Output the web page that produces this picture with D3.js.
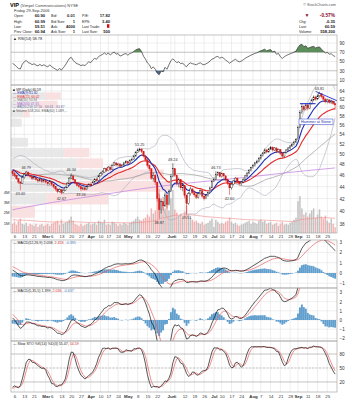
<!DOCTYPE html>
<html><head><meta charset="utf-8">
<script src="https://cdn.jsdelivr.net/npm/d3@7/dist/d3.min.js"></script>
<style>
body{margin:0;background:#fff;}
svg{display:block;font-family:"Liberation Sans",Arial,sans-serif;}
</style></head><body>
<svg id="chart" width="352" height="400"></svg>
<script>
// ---------------- data ----------------
const tickDays = [0,5,10,16,19,24,29,34,39,44,48,53,58,63,68,73,80,82,87,92,97,102,106,111,116,122,126,131,136,141,145,150,155,160];
const tickLabels = ["6","13","21","Mar","6","13","20","27","Apr","10","17","24","May","8","15","22","Jun","5","12","19","26","Jul","10","17","24","Aug","7","14","21","28","Sep","11","18","25"];
const monthLabels = ["Mar","Apr","May","Jun","Jul","Aug","Sep"];

// Dec-Jan prices before the visible window (only used to warm up indicators)
const warmupCloses = [43.5,43.2,43.8,43.6,43.1,43.4,43.9,43.7,44.0,43.6,43.9,44.3,44.0,44.6,45.0,45.4,45.2,45.8,46.3,46.0,46.6,47.1,46.8,47.4,47.9,48.3,48.0,48.6,48.9,48.5,48.8,48.2,47.8,48.1,47.5,47.0,47.3,46.8,46.5,46.8];

// visible trading days: Feb 3 2006 (day -1) .. Sep 29 2006 (day 164)
const closes = [
46.3,
46.0,45.4,44.8,44.6,45.6,
46.2,46.6,46.0,45.8,45.4,
45.6,45.2,45.0,45.3,44.9,45.1,
44.8,44.5,44.9,
44.4,44.0,43.6,43.2,43.5,
43.0,43.4,43.9,44.6,45.5,
45.9,45.2,44.6,44.2,44.0,
43.6,43.8,43.5,44.0,44.4,
44.2,44.8,45.3,45.1,45.9,
46.3,46.6,47.2,46.9,
47.5,47.1,47.8,48.3,47.9,
48.1,47.6,47.9,48.3,48.5,
48.2,48.8,49.0,49.6,50.3,
50.8,51.0,50.5,49.6,48.9,
47.8,47.2,45.5,46.0,44.8,
42.0,40.2,41.5,40.8,42.6,
41.0,43.2,45.8,47.2,
46.0,44.6,45.2,43.8,44.2,
42.5,41.2,42.8,43.6,43.0,
42.6,42.2,42.8,43.3,42.4,
42.0,42.5,43.0,43.8,44.9,
45.3,46.2,46.5,45.8,
46.3,45.9,45.2,44.6,43.8,
44.4,45.0,45.5,44.9,44.5,
44.8,45.3,45.9,46.4,46.9,
47.4,47.8,48.3,48.6,49.2,
49.7,50.2,50.8,50.4,51.0,
51.3,50.8,51.2,50.5,50.9,
50.1,49.6,50.3,50.8,51.2,
51.6,51.9,52.4,52.9,55.5,
58.8,60.2,59.5,60.6,
59.8,60.9,61.8,62.5,62.0,
62.8,63.3,62.6,62.0,61.4,
61.8,61.2,61.5,60.94,60.59];

const highs = [
46.8,
46.6,46.1,45.5,45.0,45.8,
46.4,46.8,46.6,46.2,45.9,
45.9,45.7,45.4,45.5,45.4,45.3,
45.2,44.9,45.1,
44.9,44.5,44.1,43.7,43.7,
43.6,43.6,44.1,44.8,45.7,
46.34,46.0,45.3,44.8,44.4,
44.1,44.0,43.9,44.2,44.6,
44.7,45.0,45.5,45.6,46.1,
46.6,46.9,47.4,47.4,
47.7,47.6,48.0,48.5,48.4,
48.3,48.2,48.1,48.5,48.8,
48.7,49.0,49.3,49.8,50.6,
51.1,51.25,51.1,50.6,49.8,
48.9,48.0,47.3,46.5,46.2,
44.5,42.8,42.0,42.3,43.0,
42.8,43.5,46.2,48.24,
47.3,46.1,45.6,45.3,44.7,
44.3,42.7,43.1,44.0,43.8,
43.3,42.9,43.0,43.5,43.4,
42.6,42.7,43.2,44.0,45.1,
45.6,46.73,46.7,46.6,
46.5,46.4,46.0,45.4,44.7,
44.6,45.2,45.7,45.6,45.0,
45.0,45.5,46.1,46.6,47.1,
47.6,48.1,48.5,48.9,49.4,
50.0,50.4,51.1,51.0,51.2,
51.6,51.5,51.4,51.3,51.1,
51.0,50.3,50.5,51.0,51.4,
51.8,52.2,52.7,53.2,55.9,
59.4,60.8,60.6,61.0,
60.8,61.2,62.1,62.9,62.8,
63.2,63.81,63.4,62.9,62.3,
62.1,62.0,61.8,61.6,60.99];

const lows = [
45.9,
45.7,45.2,44.5,43.4,44.5,
45.4,46.0,45.8,45.5,45.1,
45.2,45.0,44.7,44.9,44.6,44.7,
44.5,44.2,44.3,
44.1,43.7,43.3,42.9,43.0,
42.67,42.9,43.3,43.8,44.5,
45.3,45.0,44.4,44.0,43.7,
43.24,43.4,43.3,43.4,43.9,
44.0,44.1,44.7,44.9,45.0,
45.8,46.1,46.5,46.6,
46.9,46.9,47.0,47.7,47.6,
47.6,47.4,47.4,47.7,48.1,
47.9,48.1,48.6,48.9,49.5,
50.2,50.5,50.2,49.3,48.6,
47.4,46.8,45.2,44.9,44.3,
41.5,38.87,39.6,40.1,40.6,
40.4,40.9,43.3,45.6,
45.7,44.2,43.9,43.4,43.2,
42.0,39.51,41.0,42.5,42.7,
42.3,41.9,42.0,42.6,42.1,
41.7,41.9,42.3,42.9,43.8,
44.8,45.2,45.9,45.6,
45.6,45.6,44.9,44.3,42.60,
43.5,44.2,44.8,44.6,44.2,
44.2,44.6,45.2,45.7,46.2,
46.7,47.2,47.6,48.1,48.4,
48.9,49.5,50.0,50.1,50.3,
50.8,50.5,50.6,50.2,50.3,
49.8,49.2,49.4,50.1,50.6,
51.0,51.4,51.7,52.2,53.1,
55.4,58.5,59.1,59.3,
59.3,59.6,60.7,61.5,61.6,
61.9,62.4,62.2,61.7,61.0,
61.0,60.9,60.8,60.6,59.51];

// volume, millions of shares
const volumes = [
0.9,
1.1,0.8,1.2,1.4,0.9,
0.8,1.0,0.7,0.9,0.8,
0.7,0.9,0.6,0.8,0.9,0.7,
0.8,0.9,0.7,
0.9,1.0,1.1,1.2,0.8,
1.3,0.9,1.0,1.1,1.3,
1.6,1.2,0.9,0.8,0.7,
0.9,0.7,0.8,0.9,1.0,
0.8,0.9,1.0,0.8,1.2,
1.1,1.0,1.3,0.8,
0.9,0.8,1.1,1.0,0.9,
0.7,0.9,0.8,1.0,0.9,
0.8,1.0,1.1,1.2,1.4,
1.6,1.3,1.2,1.4,1.5,
1.8,1.6,2.4,1.9,2.2,
3.6,4.3,3.1,2.6,2.4,
2.8,2.2,3.4,4.2,
2.3,2.0,1.7,1.9,1.5,
2.1,2.7,1.8,1.5,1.3,
1.1,1.2,1.0,0.9,1.1,
0.8,0.9,1.0,1.2,1.4,
0.6,1.3,1.1,0.9,
1.0,0.9,1.1,1.2,1.5,
1.1,0.9,1.0,0.8,0.7,
0.8,0.9,1.0,1.1,1.2,
0.9,1.1,1.0,0.9,1.2,
1.3,1.1,1.2,0.9,1.0,
1.1,0.8,0.9,1.0,0.7,
0.9,1.1,0.8,0.9,0.8,
1.0,1.1,1.3,1.5,3.1,
3.6,2.4,1.8,2.0,
1.6,1.9,2.2,2.4,1.5,
1.8,2.3,1.6,1.4,1.7,
1.2,1.0,1.4,0.9,0.558];

const ma200Days = [-1,20,40,60,80,100,120,140,164];
const ma200Values = [40.2,41.4,42.4,43.4,44.3,45.0,45.7,46.5,47.35];

const priceTicks = [64,62,60,58,56,54,52,50,48,46,44,42,40,38];
const volTicks = [1,2,3,4];
const rsiTicks = [90,70,50,30,10];
const macd1Ticks = [3,2,1,0,-1];
const macd2Ticks = [3,2,1,0,-1,-2];
const stoTicks = [80,50,20];

const labelDays   = [6,3,29,24,34,64,81,74,88,103,110,156];
const labelValues = [46.79,43.40,46.34,42.67,43.24,51.25,48.24,38.87,39.51,46.73,42.60,63.81];
const labelAbove  = [1,0,1,0,0,1,1,0,0,1,0,1];

// ---------------- helpers ----------------
const svg = d3.select("#chart");
const L = 11, R = 337;
const days = d3.range(-1, 165);
const x = d3.scaleLinear().domain([0,164]).range([14.5, 14.5 + 164*1.955]);
const nW = warmupCloses.length;
const fullC = warmupCloses.concat(closes);
const fullH = warmupCloses.concat(highs);
const fullL = warmupCloses.concat(lows);

function ema(arr, n){ const k = 2/(n+1); let e = arr[0]; return arr.map((v,i)=> (e = i===0 ? v : v*k + e*(1-k))); }
function sma(arr, n){ return arr.map((v,i)=> d3.mean(arr.slice(Math.max(0,i-n+1), i+1))); }
function vis(arr){ return arr.slice(nW); }

const opens = closes.map((c,d)=> d===0 ? warmupCloses[nW-1] : closes[d-1]);
const ema9 = vis(ema(fullC,9));
const ema21 = vis(ema(fullC,21));
const ma50 = vis(sma(fullC,50));
const bb = vis(fullC.map((v,i)=>{ const s = fullC.slice(Math.max(0,i-19), i+1); const m = d3.mean(s); const sd = Math.sqrt(d3.mean(s.map(q=>(q-m)*(q-m)))); return [m-2*sd, m+2*sd]; }));
function macdCalc(a,b,c){ const ea = ema(fullC,a), eb = ema(fullC,b); const m = ea.map((v,i)=>v-eb[i]); const s = ema(m,c); return {m: vis(m), s: vis(s), h: vis(m.map((v,i)=>v-s[i]))}; }
const M1 = macdCalc(12,26,9), M2 = macdCalc(5,35,5);
const rsi = vis((function(arr,n){ let ag=0, al=0; return arr.map((v,i)=>{ if(i===0) return 50; const ch=v-arr[i-1]; const g=Math.max(ch,0), l=Math.max(-ch,0); if(i<=n){ ag=(ag*(i-1)+g)/i; al=(al*(i-1)+l)/i; } else { ag=(ag*(n-1)+g)/n; al=(al*(n-1)+l)/n; } return al===0?100:100-100/(1+ag/al); }); })(fullC,14));
const fastK = fullC.map((v,i)=>{ const a=Math.max(0,i-13); const hh=d3.max(fullH.slice(a,i+1)), ll=d3.min(fullL.slice(a,i+1)); return hh===ll?50:(v-ll)/(hh-ll)*100; });
const slowKfull = sma(fastK,3);
const stoK = vis(slowKfull), stoD = vis(sma(slowKfull,3));
const volEma = (function(){ const k=2/61; let e=d3.mean(volumes); return volumes.map(v=> (e = v*k + e*(1-k))); })();

// ---------------- panels ----------------
const panels = {
  rsi:  {top:35,  bottom:85},
  price:{top:85,  bottom:233},
  m1:   {top:240, bottom:288},
  m2:   {top:288, bottom:341},
  sto:  {top:341, bottom:392}
};
const yR  = d3.scaleLinear().domain([0,100]).range([84.6,38.4]);
const yP  = d3.scaleLog().domain([38,64]).range([224.1,91]);
const yV  = d3.scaleLinear().domain([0,4]).range([233,192]);
const yM1 = d3.scaleLinear().domain([-1,3]).range([283.3,242.1]);
const yM2 = d3.scaleLinear().domain([-2,3]).range([338.4,292.4]);
const yS  = d3.scaleLinear().domain([0,100]).range([391.3,344.7]);

const defs = svg.append("defs");
Object.entries(panels).forEach(([k,p])=>{
  defs.append("clipPath").attr("id","clip-"+k).append("rect").attr("x",L).attr("y",p.top).attr("width",R-L).attr("height",p.bottom-p.top);
});

function grid(key, yScale, ticks, heavy){
  const p = panels[key];
  const g = svg.append("g");
  g.selectAll(".v").data(tickDays).join("line")
    .attr("x1",d=>x(d)).attr("x2",d=>x(d)).attr("y1",p.top).attr("y2",p.bottom)
    .attr("stroke","#e2e2e2").attr("stroke-width",0.6);
  g.selectAll(".h").data(ticks).join("line")
    .attr("x1",L).attr("x2",R).attr("y1",d=>yScale(d)).attr("y2",d=>yScale(d))
    .attr("stroke",d=> heavy && heavy.includes(d) ? "#9a9a9a" : "#e2e2e2").attr("stroke-width",0.6);
  const ax = svg.append("g").attr("transform",`translate(${R+1},0)`)
    .call(d3.axisRight(yScale).tickValues(ticks).tickSize(0).tickPadding(1.5).tickFormat(d3.format("d")));
  ax.select(".domain").remove();
  ax.selectAll("text").attr("font-size",4.6).attr("fill","#333").attr("font-family","Liberation Sans, Arial, sans-serif");
  return g;
}
function frame(key){
  const p = panels[key];
  svg.append("rect").attr("x",L).attr("y",p.top).attr("width",R-L).attr("height",p.bottom-p.top)
    .attr("fill","none").attr("stroke","#a8a8a8").attr("stroke-width",0.7);
}
function dateAxis(yPos){
  const ax = svg.append("g").attr("transform",`translate(0,${yPos})`)
    .call(d3.axisBottom(x).tickValues(tickDays).tickSize(0).tickPadding(0).tickFormat((d,i)=>tickLabels[i]));
  ax.select(".domain").remove();
  ax.selectAll("text").attr("font-size",4.4).attr("fill","#333")
    .attr("font-weight",(d,i)=> monthLabels.includes(tickLabels[i]) ? "bold" : "normal")
    .attr("font-family","Liberation Sans, Arial, sans-serif");
}
function txt(xp, yp, s, opt={}){
  return svg.append("text").attr("x",xp).attr("y",yp).text(s)
    .attr("font-size",opt.size||4.5).attr("fill",opt.fill||"#222")
    .attr("font-weight",opt.bold?"bold":"normal").attr("text-anchor",opt.anchor||"start");
}

// ---------------- header ----------------
txt(10,6.6,"VIP",{size:5.6,bold:true,fill:"#000"});
txt(20.5,6.6,"(Vimpel Communications)  NYSE",{size:4,fill:"#444"});
txt(336,5.8,"© StockCharts.com",{size:3.8,fill:"#555",anchor:"end"});
txt(14,11.6,"Friday  29-Sep-2006",{size:4,fill:"#333"});
const hdrRows = [17.2,22.6,28.0,33.4];
[["Open:","60.90"],["High:","60.99"],["Low:","59.51"],["Prev Close:","60.94"]].forEach((r,i)=>{ txt(14,hdrRows[i],r[0],{size:3.6}); txt(45,hdrRows[i],r[1],{size:4.1,bold:true,anchor:"end"}); });
[["Bid:","0.01"],["Bid Size:","1"],["Ask:","4000"],["Ask Size:","1"]].forEach((r,i)=>{ txt(51,hdrRows[i],r[0],{size:3.6}); txt(75,hdrRows[i],r[1],{size:4.1,bold:true,anchor:"end"}); });
[["P/E:","17.82"],["EPS:","3.40"],["Last Trade:",""],["Last Size:","500"]].forEach((r,i)=>{ txt(82,hdrRows[i],r[0],{size:3.6}); txt(110,hdrRows[i],r[1],{size:4.1,bold:true,anchor:"end"}); });
svg.append("rect").attr("x",107).attr("y",hdrRows[2]-3.8).attr("width",2.4).attr("height",3.6).attr("fill","#d01010");
txt(307,17.2,"▼",{size:5,fill:"#8b0a2a",anchor:"middle"});
txt(335,17.2,"-0.57%",{size:4.8,bold:true,fill:"#8b0a2a",anchor:"end"});
[["Chg:","-0.35"],["Last:","60.59"],["Volume:","558,200"]].forEach((r,i)=>{ txt(299,22.6+i*5.4,r[0],{size:3.6}); txt(335,22.6+i*5.4,r[1],{size:4.1,bold:true,anchor:"end"}); });

// ---------------- RSI ----------------
grid("rsi", yR, rsiTicks, [70,30]);
const gR = svg.append("g").attr("clip-path","url(#clip-rsi)");
gR.append("path").datum(rsi).attr("fill","#3f7a3f").attr("opacity",0.85)
  .attr("d", d3.area().x((d,i)=>x(days[i])).y0(yR(70)).y1(d=>yR(Math.max(d,70))));
gR.append("path").datum(rsi).attr("fill","#2a4f7a").attr("opacity",0.85)
  .attr("d", d3.area().x((d,i)=>x(days[i])).y0(yR(30)).y1(d=>yR(Math.min(d,30))));
gR.append("path").datum(rsi).attr("fill","none").attr("stroke","#333").attr("stroke-width",0.7)
  .attr("d", d3.line().x((d,i)=>x(days[i])).y(d=>yR(d)));
frame("rsi");
txt(13,39.8,"▲ RSI(14) 58.78",{size:3.9,fill:"#222"});

// ---------------- Price ----------------
grid("price", yP, priceTicks);
const gP = svg.append("g").attr("clip-path","url(#clip-price)");
// volume by price
const pmin = d3.min(lows), pmax = d3.max(highs), nz = 12, zh = (pmax-pmin)/nz;
const zUp = Array(nz).fill(0), zDn = Array(nz).fill(0);
closes.forEach((c,d)=>{ const z = Math.min(nz-1, Math.floor((c-pmin)/zh)); if(c>=opens[d]) zUp[z]+=volumes[d]; else zDn[z]+=volumes[d]; });
const vbpX = d3.scaleLinear().domain([0, d3.max(zUp.map((u,i)=>u+zDn[i]))]).range([0,160]);
d3.range(nz).forEach(z=>{
  const y0 = yP(pmin+(z+1)*zh)+0.6, y1 = yP(pmin+z*zh)-0.6;
  gP.append("rect").attr("x",L).attr("y",y0).attr("width",vbpX(zUp[z])).attr("height",y1-y0).attr("fill","#e4e4e4").attr("opacity",0.85);
  gP.append("rect").attr("x",L+vbpX(zUp[z])).attr("y",y0).attr("width",vbpX(zDn[z])).attr("height",y1-y0).attr("fill","#f9dede").attr("opacity",0.9);
});
// volume axis labels (left)
const vax = svg.append("g").attr("transform",`translate(${L-0.5},0)`)
  .call(d3.axisLeft(yV).tickValues(volTicks).tickSize(0).tickPadding(1).tickFormat(d=>d+"M"));
vax.select(".domain").remove();
vax.selectAll("text").attr("font-size",4.2).attr("fill","#333");
// volume bars
gP.selectAll(".vol").data(volumes).join("rect")
  .attr("x",(d,i)=>x(days[i])-0.75).attr("width",1.5)
  .attr("y",d=>yV(d)).attr("height",d=>yV(0)-yV(d))
  .attr("fill",(d,i)=> closes[i] >= (i===0?warmupCloses[nW-1]:closes[i-1]) ? "#b9b9b9" : "#f0a8a8")
  .attr("opacity",0.85);
gP.append("path").datum(volEma).attr("fill","none").attr("stroke","#e88").attr("stroke-width",0.6)
  .attr("d", d3.line().x((d,i)=>x(days[i])).y(d=>yV(d)));
// overlays
const lineP = (arr)=> d3.line().x((d,i)=>x(days[i])).y(d=>yP(d))(arr);
gP.append("path").attr("d", lineP(bb.map(b=>b[1]))).attr("fill","none").attr("stroke","#a9a9b8").attr("stroke-width",0.6);
gP.append("path").attr("d", lineP(bb.map(b=>b[0]))).attr("fill","none").attr("stroke","#a9a9b8").attr("stroke-width",0.6);
gP.append("path").attr("d", lineP(ma50)).attr("fill","none").attr("stroke","#9a9a9a").attr("stroke-width",0.7);
gP.append("path").attr("d", d3.line().curve(d3.curveMonotoneX).x((d,i)=>x(ma200Days[i])).y(d=>yP(d))(ma200Values))
  .attr("fill","none").attr("stroke","#c68ae0").attr("stroke-width",0.8);
gP.append("path").attr("d", lineP(ema21)).attr("fill","none").attr("stroke","#e02828").attr("stroke-width",1.1);
gP.append("path").attr("d", lineP(ema9)).attr("fill","none").attr("stroke","#1c2fb0").attr("stroke-width",1.1);
// candles
closes.forEach((c,d)=>{
  const o = opens[d], prev = d===0 ? warmupCloses[nW-1] : closes[d-1];
  const col = c >= prev ? "#111" : "#d81818";
  const xc = x(days[d]);
  gP.append("line").attr("x1",xc).attr("x2",xc).attr("y1",yP(Math.max(highs[d],o,c))).attr("y2",yP(Math.min(lows[d],o,c))).attr("stroke",col).attr("stroke-width",0.5);
  const top = yP(Math.max(o,c)), bot = yP(Math.min(o,c));
  gP.append("rect").attr("x",xc-0.7).attr("width",1.4).attr("y",top).attr("height",Math.max(0.5,bot-top))
    .attr("fill", c>o ? "#fff" : col).attr("stroke",col).attr("stroke-width",0.35);
});
// annotations
gP.append("line").attr("x1",x(146)).attr("x2",x(154)).attr("y1",yP(60.9)).attr("y2",yP(60.9)).attr("stroke","#2233cc").attr("stroke-width",1.1);
gP.append("line").attr("x1",x(154)).attr("x2",x(165)).attr("y1",yP(63.9)).attr("y2",yP(61.6)).attr("stroke","#2233cc").attr("stroke-width",0.9);
svg.append("rect").attr("x",299).attr("y",119).attr("width",34).attr("height",5.4).attr("fill","#fff").attr("stroke","#3344cc").attr("stroke-width",0.5);
txt(316,123.1,"Hammer at Stone",{size:3.8,fill:"#2233aa",anchor:"middle"});
labelDays.forEach((dd,k)=>{
  const v = labelValues[k];
  const yy = labelAbove[k] ? yP(Math.max(v, highs[dd+1]))-2 : yP(Math.min(v, lows[dd+1]))+5.2;
  txt(x(dd), yy, v.toFixed(2), {size:3.8, fill:"#333", anchor:"middle"});
});
frame("price");
// legend
const legend = [
  ["■ VIP (Daily) 60.59","#111"],
  ["— EMA(9) 61.82","#1c2fb0"],
  ["— EMA(21) 60.02","#e02828"],
  ["— MA(50) 53.94","#777"],
  ["— MA(200) 47.35","#b060d0"],
  ["— BB(20,2.0) 57.50 - 60.61 - 63.87","#6a6aa0"],
  ["■ Volume 558,200, EMA(60) 1,089,...","#555"]
];
legend.forEach((l,i)=> txt(13, 90.6 + i*3.55, l[0], {size:3.3, fill:l[1]}));
dateAxis(235.2);

// ---------------- MACD panels ----------------
function macdPanel(key, yS_, ticks, M, label){
  grid(key, yS_, ticks);
  const g = svg.append("g").attr("clip-path",`url(#clip-${key})`);
  g.selectAll("rect").data(M.h).join("rect")
    .attr("x",(d,i)=>x(days[i])-0.95).attr("width",1.9)
    .attr("y",d=>Math.min(yS_(0),yS_(d))).attr("height",d=>Math.abs(yS_(d)-yS_(0)))
    .attr("fill","#4f93c8").attr("opacity",0.9);
  g.append("path").datum(M.s).attr("fill","none").attr("stroke","#e86060").attr("stroke-width",0.7)
    .attr("d", d3.line().x((d,i)=>x(days[i])).y(d=>yS_(d)));
  g.append("path").datum(M.m).attr("fill","none").attr("stroke","#111").attr("stroke-width",0.7)
    .attr("d", d3.line().x((d,i)=>x(days[i])).y(d=>yS_(d)));
  frame(key);
  const t = svg.append("text").attr("x",13).attr("y",panels[key].top+3.9).attr("font-size",3.6);
  label.forEach(([s,c])=> t.append("tspan").text(s).attr("fill",c));
}
macdPanel("m1", yM1, macd1Ticks, M1, [["— MACD(12,26,9) 2.058, ","#222"],["2.453, ","#d03030"],["-0.395","#3a7ab8"]]);
macdPanel("m2", yM2, macd2Ticks, M2, [["— MACD(5,35,5) 1.399, ","#222"],["2.036, ","#d03030"],["-0.637","#3a7ab8"]]);

// ---------------- Slow STO ----------------
grid("sto", yS, stoTicks, [80,20]);
const gS = svg.append("g").attr("clip-path","url(#clip-sto)");
gS.append("line").attr("x1",L).attr("x2",R).attr("y1",yS(50)).attr("y2",yS(50)).attr("stroke","#999").attr("stroke-width",0.5).attr("stroke-dasharray","2,1.5");
gS.append("path").datum(stoD).attr("fill","none").attr("stroke","#e86060").attr("stroke-width",0.7)
  .attr("d", d3.line().x((d,i)=>x(days[i])).y(d=>yS(d)));
gS.append("path").datum(stoK).attr("fill","none").attr("stroke","#111").attr("stroke-width",0.7)
  .attr("d", d3.line().x((d,i)=>x(days[i])).y(d=>yS(d)));
frame("sto");
const ts = svg.append("text").attr("x",13).attr("y",panels.sto.top+4.2).attr("font-size",3.6);
ts.append("tspan").text("— Slow STO %K(14) %D(3) 55.47, ").attr("fill","#222");
ts.append("tspan").text("54.59").attr("fill","#d03030");
dateAxis(394.5);
</script>
</body></html>
